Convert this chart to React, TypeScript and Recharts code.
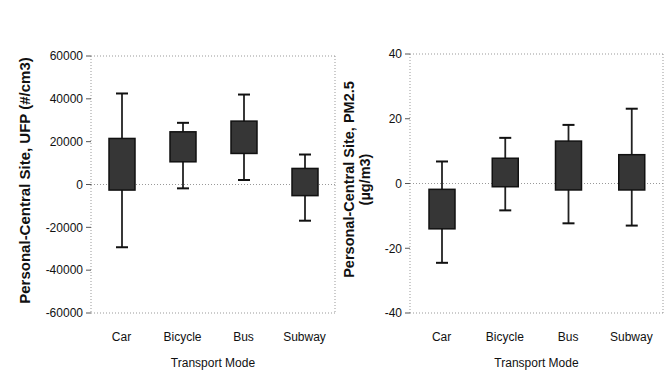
import { ComposedChart, Bar, XAxis, YAxis, CartesianGrid, Label } from 'recharts';

const modes = ['Car', 'Bicycle', 'Bus', 'Subway'];

// UFP (#/cm3), personal minus central site
const ufpLow = [-29300, -1800, 2100, -16900];
const ufpQ1 = [-2600, 10600, 14500, -5200];
const ufpQ3 = [21500, 24600, 29600, 7500];
const ufpHigh = [42500, 28800, 42000, 14000];
const ufpTicks = [-60000, -40000, -20000, 0, 20000, 40000, 60000];

// PM2.5 (ug/m3), personal minus central site
const pmLow = [-24.5, -8.3, -12.3, -13];
const pmQ1 = [-14, -1, -2, -2];
const pmQ3 = [-1.8, 7.8, 13.1, 8.9];
const pmHigh = [6.8, 14.1, 18.1, 23.1];
const pmTicks = [-40, -20, 0, 20, 40];

const FONT = '"Liberation Sans", Arial, sans-serif';

function build(low: number[], q1: number[], q3: number[], high: number[]) {
  return modes.map((name, i) => ({ name, low: low[i], q1: q1[i], q3: q3[i], high: high[i] }));
}

function BoxShape(props: any) {
  const { x, y, width, height, payload } = props;
  const top = Math.min(y, y + height);
  const bottom = Math.max(y, y + height);
  const { low, q1, q3, high } = payload;
  const px = (v: number) => top + ((high - v) / (high - low)) * (bottom - top);
  const cx = x + width / 2;
  const cap = 6;
  return (
    <g>
      <line x1={cx} x2={cx} y1={top} y2={bottom} stroke="#222" strokeWidth={1.8} />
      <line x1={cx - cap} x2={cx + cap} y1={top} y2={top} stroke="#111" strokeWidth={2} />
      <line x1={cx - cap} x2={cx + cap} y1={bottom} y2={bottom} stroke="#111" strokeWidth={2} />
      <rect x={x} y={px(q3)} width={width} height={px(q1) - px(q3)} fill="#363636" stroke="#111" strokeWidth={1.5} />
    </g>
  );
}

// frame lines round the plot plus the dotted zero line
const frameH = ({ offset, yAxis }: any) => {
  const lines = [offset.top, offset.top + offset.height];
  if (yAxis && typeof yAxis.scale === 'function') lines.push(yAxis.scale(0));
  else lines.push(offset.top + offset.height / 2);
  return lines;
};
const frameV = ({ offset }: any) => [offset.left, offset.left + offset.width];

interface BoxPanelProps {
  data: any[];
  width: number;
  ticks: number[];
  yLabel: string[];
  labelX: number;
  labelSize: number;
  margin: { top: number; right: number; bottom: number; left: number };
  yAxisWidth: number;
}

function BoxPanel({ data, width, ticks, yLabel, labelX, labelSize, margin, yAxisWidth }: BoxPanelProps) {
  const lo = ticks[0];
  const hi = ticks[ticks.length - 1];
  return (
    <ComposedChart width={width} height={376} data={data} margin={margin}>
      <CartesianGrid
        stroke="#999"
        strokeDasharray="1 2"
        horizontalCoordinatesGenerator={frameH}
        verticalCoordinatesGenerator={frameV}
      />
      <XAxis
        dataKey="name"
        axisLine={false}
        tickLine={false}
        tickMargin={13}
        height={63}
        tick={{ fontSize: 12, fill: '#111', fontFamily: FONT }}
      >
        <Label value="Transport Mode" position="insideBottom" offset={9} style={{ fontSize: 12, fill: '#111', fontFamily: FONT }} />
      </XAxis>
      <YAxis
        domain={[lo, hi]}
        ticks={ticks}
        width={yAxisWidth}
        axisLine={false}
        tickSize={5}
        tickMargin={3}
        stroke="#555"
        tick={{ fontSize: 12, fill: '#111', fontFamily: FONT }}
        label={(p: any) => {
          const vb = p.viewBox;
          const cy = vb.y + vb.height / 2 - 4;
          return (
            <text
              transform="rotate(-90, 0, 0)"
              style={{ fontSize: labelSize, fontWeight: 'bold', fill: '#111', fontFamily: FONT }}
              textAnchor="middle"
            >
              {yLabel.map((t, i) => (
                <tspan key={t} x={-cy} y={vb.x + labelX + i * 16}>
                  {t}
                </tspan>
              ))}
            </text>
          );
        }}
      />
      <Bar
        dataKey={(d: any) => [d.low, d.high]}
        barSize={26}
        shape={BoxShape}
        isAnimationActive={false}
      />
    </ComposedChart>
  );
}

export default function App() {
  return (
    <div style={{ position: 'absolute', left: 0, top: 0, width: 671, height: 376, background: '#fff', display: 'flex' }}>
      <BoxPanel
        data={build(ufpLow, ufpQ1, ufpQ3, ufpHigh)}
        width={340}
        ticks={ufpTicks}
        yLabel={['Personal-Central Site, UFP (#/cm3)']}
        labelX={30}
        labelSize={15}
        margin={{ top: 56, right: 5, bottom: 0, left: 0 }}
        yAxisWidth={91}
      />
      <BoxPanel
        data={build(pmLow, pmQ1, pmQ3, pmHigh)}
        width={331}
        ticks={pmTicks}
        yLabel={['Personal-Central Site, PM2.5', '(µg/m3)']}
        labelX={14}
        labelSize={14.5}
        margin={{ top: 54, right: 8, bottom: 0, left: 0 }}
        yAxisWidth={70}
      />
    </div>
  );
}
